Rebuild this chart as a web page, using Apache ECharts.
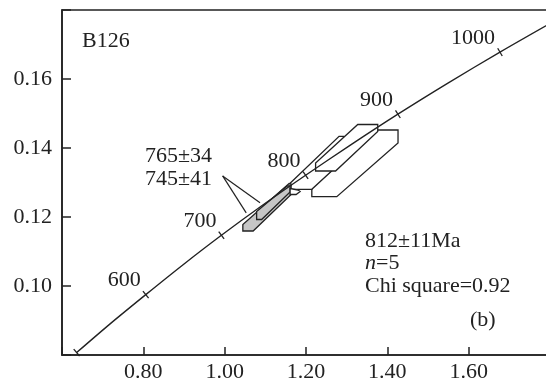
<!DOCTYPE html>
<html>
<head>
<meta charset="utf-8">
<script src="https://cdn.jsdelivr.net/npm/echarts@6/dist/echarts.min.js"></script>
<style>
html, body { margin: 0; padding: 0; background: #fff; }
#chart { width: 546px; height: 381px; }
</style>
</head>
<body>
<div id="chart"></div>
<script>
// concordia curve (x: 207Pb/235U, y: 206Pb/238U)
const curveAge = [500, 550, 600, 650, 700, 750, 800, 850, 900, 950, 1000, 1045];
const curveX = [0.636, 0.719, 0.806, 0.897, 0.992, 1.093, 1.199, 1.310, 1.426, 1.549, 1.677, 1.800];
const curveY = [0.0807, 0.0891, 0.0975, 0.1061, 0.1147, 0.1234, 0.1321, 0.1409, 0.1498, 0.1588, 0.1678, 0.1761];

// age marks on the curve
const tickAges = [500, 600, 700, 800, 900, 1000];
const tickLabels = ["", "600", "700", "800", "900", "1000"];

// axis ticks
const xTicks = [0.60, 0.80, 1.00, 1.20, 1.40, 1.60, 1.80];
const yTicks = [0.08, 0.10, 0.12, 0.14, 0.16, 0.18];

// error boxes of the spot analyses, drawn in this order
const shapeFill = ["#fff", "#fff", "#fff", "#c6c6c6", "#c6c6c6", "#fff"];
const shapeX = [
  [1.3764, 1.4263, 1.4263, 1.2757, 1.2143, 1.2143],
  [1.1609, 1.2813, 1.2924, 1.2924, 1.2143, 1.1609],
  [1.3273, 1.3764, 1.3764, 1.2727, 1.2236, 1.2236],
  [1.0447, 1.0447, 1.0700, 1.1634, 1.1634, 1.1585],
  [1.0786, 1.0786, 1.0909, 1.1609, 1.1609, 1.1536],
  [1.1609, 1.1806, 1.1855, 1.1757, 1.1609]
];
const shapeY = [
  [0.14522, 0.14522, 0.14145, 0.12588, 0.12588, 0.12841],
  [0.12977, 0.14339, 0.14339, 0.13652, 0.12803, 0.12803],
  [0.14681, 0.14681, 0.14478, 0.13333, 0.13333, 0.13565],
  [0.11783, 0.11594, 0.11594, 0.12652, 0.12957, 0.12971],
  [0.12159, 0.11928, 0.11928, 0.12725, 0.12899, 0.12899],
  [0.12826, 0.12783, 0.12739, 0.12652, 0.12652]
];

// pointer lines from the "765±34 / 745±41" note
const leaderStart = [0.995, 0.1319];
const leaderEndX = [1.087, 1.053];
const leaderEndY = [0.1241, 0.1212];

const FONT = '"Liberation Serif", "Times New Roman", serif';
const INK = "#222";
const FS = 22;

const chart = echarts.init(document.getElementById("chart"));

function fmt(v, ticks) {
  const first = ticks[0], last = ticks[ticks.length - 1];
  if (Math.abs(v - first) < 1e-6 || Math.abs(v - last) < 1e-6) return "";
  return v.toFixed(2);
}

const series = [];

// error boxes
series.push({
  type: "custom",
  coordinateSystem: "cartesian2d",
  silent: true,
  z: 3,
  data: shapeX.map((xs, i) => [xs[0], shapeY[i][0], i]),
  renderItem: function (params, api) {
    const i = api.value(2);
    const pts = shapeX[i].map((x, k) => api.coord([x, shapeY[i][k]]));
    return {
      type: "polygon",
      shape: { points: pts },
      style: { fill: shapeFill[i], stroke: INK, lineWidth: 1.3 }
    };
  }
});

// concordia
series.push({
  type: "line",
  data: curveX.map((x, i) => [x, curveY[i]]),
  smooth: 0.3,
  symbol: "none",
  silent: true,
  z: 5,
  lineStyle: { color: INK, width: 1.4 }
});

// age marks and their labels
series.push({
  type: "custom",
  coordinateSystem: "cartesian2d",
  silent: true,
  z: 6,
  data: tickAges.map((a, i) => {
    const k = curveAge.indexOf(a);
    return [curveX[k], curveY[k], i];
  }),
  renderItem: function (params, api) {
    const i = api.value(2);
    const k = curveAge.indexOf(tickAges[i]);
    const n = curveX.length;
    const p = api.coord([curveX[k], curveY[k]]);
    const k0 = Math.max(k - 1, 0), k1 = Math.min(k + 1, n - 1);
    const a = api.coord([curveX[k0], curveY[k0]]);
    const b = api.coord([curveX[k1], curveY[k1]]);
    let dx = b[0] - a[0], dy = b[1] - a[1];
    const len = Math.hypot(dx, dy);
    dx /= len; dy /= len;
    const h = 4.5;
    return {
      type: "group",
      children: [
        {
          type: "line",
          shape: { x1: p[0] + dy * h, y1: p[1] - dx * h, x2: p[0] - dy * h, y2: p[1] + dx * h },
          style: { stroke: INK, lineWidth: 1.3 }
        },
        {
          type: "text",
          x: p[0] - 5,
          y: p[1] - 14,
          style: {
            text: tickLabels[i],
            font: FS + "px " + FONT,
            fill: INK,
            align: "right",
            verticalAlign: "middle"
          }
        }
      ]
    };
  }
});

// leader lines
leaderEndX.forEach((x, i) => {
  series.push({
    type: "line",
    data: [leaderStart, [x, leaderEndY[i]]],
    symbol: "none",
    silent: true,
    z: 4,
    lineStyle: { color: INK, width: 1.2 }
  });
});

const option = {
  animation: false,
  backgroundColor: "#fff",
  grid: {
    left: 62,
    top: 10,
    width: 488,
    height: 345,
    containLabel: false,
    outerBoundsMode: "none",
    show: true,
    borderColor: INK,
    borderWidth: 1.6
  },
  xAxis: {
    type: "value",
    min: xTicks[0],
    max: xTicks[xTicks.length - 1],
    interval: 0.2,
    axisLine: { lineStyle: { color: INK, width: 1.6 } },
    axisTick: { inside: true, length: 8, lineStyle: { color: INK, width: 1.5 } },
    splitLine: { show: false },
    axisLabel: {
      margin: 6,
      color: INK,
      fontFamily: FONT,
      fontSize: FS,
      formatter: v => fmt(v, xTicks)
    }
  },
  yAxis: {
    type: "value",
    min: yTicks[0],
    max: yTicks[yTicks.length - 1],
    interval: 0.02,
    axisLine: { lineStyle: { color: INK, width: 1.6 } },
    axisTick: { inside: true, length: 9, lineStyle: { color: INK, width: 1.5 } },
    splitLine: { show: false },
    axisLabel: {
      margin: 10,
      color: INK,
      fontFamily: FONT,
      fontSize: FS,
      formatter: v => fmt(v, yTicks)
    }
  },
  graphic: [
    { type: "text", left: 82, top: 30, style: { text: "B126", font: FS + "px " + FONT, fill: INK } },
    { type: "text", left: 145, top: 145, style: { text: "765±34", font: FS + "px " + FONT, fill: INK } },
    { type: "text", left: 145, top: 168, style: { text: "745±41", font: FS + "px " + FONT, fill: INK } },
    { type: "text", left: 365, top: 230, style: { text: "812±11Ma", font: FS + "px " + FONT, fill: INK } },
    {
      type: "text", left: 365, top: 252,
      style: {
        text: "{i|n}=5",
        font: FS + "px " + FONT,
        fill: INK,
        rich: { i: { fontStyle: "italic", fontFamily: FONT, fontSize: FS, fill: INK } }
      }
    },
    { type: "text", left: 365, top: 275, style: { text: "Chi square=0.92", font: FS + "px " + FONT, fill: INK } },
    { type: "text", left: 470, top: 309, style: { text: "(b)", font: FS + "px " + FONT, fill: INK } }
  ],
  series: series
};

chart.setOption(option);
</script>
</body>
</html>
